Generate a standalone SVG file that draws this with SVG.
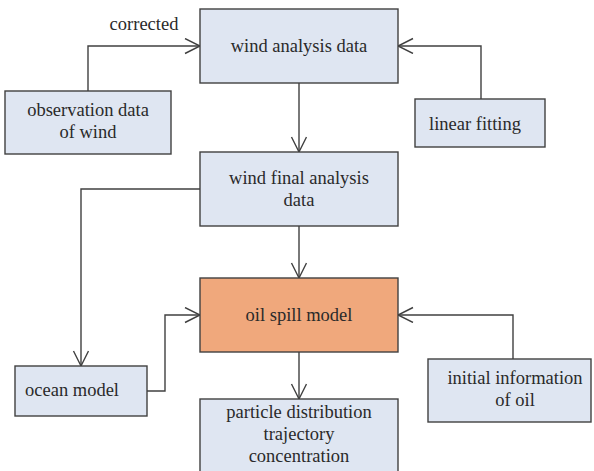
<svg xmlns="http://www.w3.org/2000/svg" width="594" height="471" viewBox="0 0 594 471">
<style>
.box{fill:#dfe6f2;stroke:#404040;stroke-width:1.4}
.oil{fill:#f0a87c;stroke:#404040;stroke-width:1.4}
.t{font-family:"Liberation Serif","Times New Roman",serif;font-size:18.5px;fill:#2a2a2a;text-anchor:middle}
.c{fill:none;stroke:#404040;stroke-width:1.4}
</style>
<defs>
<marker id="a" markerUnits="userSpaceOnUse" markerWidth="20" markerHeight="20" viewBox="0 0 20 20" refX="16" refY="8" orient="auto">
<path d="M1,0.5 L16,8 L1,15.5" fill="none" stroke="#404040" stroke-width="1.4"/>
</marker>
</defs>
<g id="connectors">
<path class="c" d="M88,91 V46 H200" marker-end="url(#a)"/>
<path class="c" d="M481,99 V46 H398" marker-end="url(#a)"/>
<path class="c" d="M299,83 V152" marker-end="url(#a)"/>
<path class="c" d="M299,226 V278" marker-end="url(#a)"/>
<path class="c" d="M200,189 H81 V366" marker-end="url(#a)"/>
<path class="c" d="M147,391 H165 V315 H200" marker-end="url(#a)"/>
<path class="c" d="M513,359 V315 H398" marker-end="url(#a)"/>
<path class="c" d="M299,352 V399" marker-end="url(#a)"/>
<text class="t" x="144" y="30">corrected</text>
</g>
<g id="wind-analysis">
<rect class="box" x="200" y="9" width="198" height="74"/>
<text class="t" x="299" y="52">wind analysis data</text>
</g>
<g id="observation">
<rect class="box" x="5" y="91" width="166" height="63"/>
<text class="t" x="88" y="116">observation data</text>
<text class="t" x="88" y="138">of wind</text>
</g>
<g id="linear-fitting">
<rect class="box" x="415" y="99" width="130" height="48"/>
<text class="t" x="475" y="130">linear fitting</text>
</g>
<g id="wind-final">
<rect class="box" x="200" y="152" width="198" height="74"/>
<text class="t" x="299" y="184">wind final analysis</text>
<text class="t" x="299" y="206">data</text>
</g>
<g id="oil-spill">
<rect class="oil" x="200" y="278" width="198" height="74"/>
<text class="t" x="299" y="321">oil spill model</text>
</g>
<g id="ocean-model">
<rect class="box" x="15" y="366" width="132" height="50"/>
<text class="t" x="72" y="396">ocean model</text>
</g>
<g id="initial-info">
<rect class="box" x="428" y="359" width="163" height="63"/>
<text class="t" x="515" y="384">initial information</text>
<text class="t" x="515" y="406">of oil</text>
</g>
<g id="particle">
<rect class="box" x="200" y="399" width="198" height="80"/>
<text class="t" x="299" y="418">particle distribution</text>
<text class="t" x="299" y="440">trajectory</text>
<text class="t" x="299" y="462">concentration</text>
</g>
</svg>
